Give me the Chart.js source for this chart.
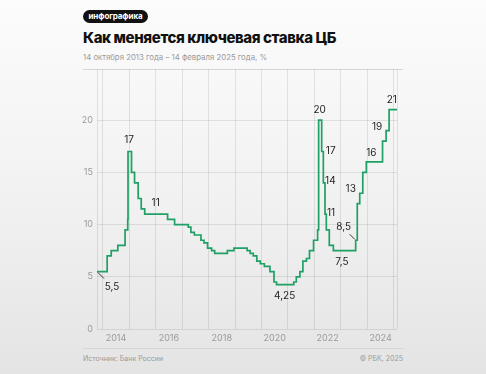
<!DOCTYPE html>
<html><head><meta charset="utf-8">
<script src="https://cdn.jsdelivr.net/npm/chart.js@4"></script>
<style>
html,body{margin:0;padding:0;}
body{width:486px;height:374px;overflow:hidden;position:relative;background:linear-gradient(180deg,#fcfcfc 0%,#f1f1f1 55%,#e4e4e4 100%);font-family:Inter,"Noto Sans",sans-serif;}
#c{position:absolute;left:0;top:0;}
.badge{position:absolute;left:83px;top:10px;height:13px;width:65px;border-radius:7px;background:#111;color:#fff;font-size:8px;font-weight:700;line-height:13px;text-align:center;letter-spacing:-0.1px;}
.title{position:absolute;left:83px;top:28px;font-size:15px;font-weight:800;color:#111;letter-spacing:-0.4px;white-space:nowrap;}
.sub{position:absolute;left:83px;top:52px;font-size:7.8px;color:#9a9a9a;white-space:nowrap;}
.sep{position:absolute;left:83px;width:320px;height:1px;background:#d6d6d6;}
.foot{position:absolute;top:354px;font-size:7px;color:#9a9a9a;white-space:nowrap;}
</style></head>
<body>
<div class="badge">инфографика</div>
<div class="title">Как меняется ключевая ставка ЦБ</div>
<div class="sub">14 октября 2013 года – 14 февраля 2025 года, %</div>
<div class="sep" style="top:69px"></div>
<div class="sep" style="top:348px"></div>
<div class="foot" style="left:83px">Источник: Банк России</div>
<div class="foot" style="right:83px">© РБК, 2025</div>
<canvas id="c" width="486" height="374"></canvas>
<script>
const dates = ["2013-10-14","2014-03-03","2014-04-28","2014-07-28","2014-11-05","2014-12-12","2014-12-16","2015-02-02","2015-03-16","2015-05-05","2015-06-16","2015-08-03","2016-06-14","2016-09-19","2017-03-27","2017-05-02","2017-06-19","2017-09-18","2017-10-30","2017-12-18","2018-02-12","2018-03-26","2018-09-17","2018-12-17","2019-06-17","2019-07-29","2019-09-09","2019-10-28","2019-12-16","2020-02-10","2020-04-27","2020-06-22","2020-07-27","2021-03-22","2021-04-26","2021-06-15","2021-07-26","2021-09-13","2021-10-25","2021-12-20","2022-02-14","2022-02-28","2022-04-11","2022-05-04","2022-05-27","2022-06-14","2022-07-25","2022-09-19","2023-07-24","2023-08-15","2023-09-18","2023-10-30","2023-12-18","2024-07-29","2024-09-16","2024-10-28","2025-02-14"];
const rates = [5.5,7,7.5,8,9.5,10.5,17,15,14,12.5,11.5,11,10.5,10,9.75,9.25,9,8.5,8.25,7.75,7.5,7.25,7.5,7.75,7.5,7.25,7,6.5,6.25,6,5.5,4.5,4.25,4.5,5,5.5,6.5,6.75,7.5,8.5,9.5,20,17,14,11,9.5,8,7.5,8.5,12,13,15,16,18,19,21,21];
const yTicks = [0,5,10,15,20];
const yearTicks = [2014,2015,2016,2017,2018,2019,2020,2021,2022,2023,2024,2025];
const yearLabels = [2014,2016,2018,2020,2022,2024];
// annotations: text, anchor date, anchor value, pixel offset
const noteText  = ["5,5","17","11","4,25","20","17","14","11","8,5","7,5","13","16","19","21"];
const noteDate  = ["2013-10-14","2014-12-16","2016-01-01","2020-10-20","2022-02-28","2022-04-11","2022-05-04","2022-05-27","2023-07-24","2023-01-01","2023-09-18","2024-01-01","2024-09-16","2025-01-01"];
const noteValue = [5.5,17,11,4.25,20,17,14,11,8.5,7.5,13,16,19,21];

function toYear(s){
  const [y,m,d]=s.split('-').map(Number);
  const start=Date.UTC(y,0,1), end=Date.UTC(y+1,0,1), t=Date.UTC(y,m-1,d);
  return y+(t-start)/(end-start);
}
const pts = dates.map((d,i)=>({x:toYear(d),y:rates[i]}));
const xMin = toYear(dates[0]), xMax = toYear(dates[dates.length-1]);
const noteOff = [[15,15],[1,-11],[0,-11],[2,11.5],[1,-10],[9,0],[7,-2],[6,-1],[-12,-13.5],[1,11],[-9,-4],[4,-8.5],[-9,-4],[-2,-10]];
const leaders = {0:[[1,1],[7,7]],8:[[-1,-1],[-6,-6]]};

const notes = {
  id:'notes',
  afterDatasetsDraw(chart){
    const ctx=chart.ctx, xs=chart.scales.x, ys=chart.scales.y;
    ctx.save();
    ctx.font='10px Inter, "Noto Sans", sans-serif';
    ctx.fillStyle='#1e1e1e';
    ctx.textAlign='center';ctx.textBaseline='middle';
    noteText.forEach((t,i)=>{
      const px=xs.getPixelForValue(toYear(noteDate[i])), py=ys.getPixelForValue(noteValue[i]);
      ctx.fillText(t, px+noteOff[i][0], py+noteOff[i][1]);
      if(leaders[i]){
        const l=leaders[i];
        ctx.strokeStyle='#333';ctx.lineWidth=1;
        ctx.beginPath();ctx.moveTo(px+l[0][0],py+l[0][1]);ctx.lineTo(px+l[1][0],py+l[1][1]);ctx.stroke();
      }
    });
    ctx.restore();
  }
};

new Chart(document.getElementById('c'),{
  type:'line',
  data:{datasets:[{data:pts,stepped:true,borderColor:'#1fa064',borderWidth:1.7,pointRadius:0,fill:false,tension:0}]},
  options:{
    responsive:false,animation:false,devicePixelRatio:1,
    layout:{padding:{left:80,right:89,top:69,bottom:25}},
    plugins:{legend:{display:false},tooltip:{enabled:false}},
    scales:{
      x:{type:'linear',min:xMin,max:xMax,position:'bottom',
        afterBuildTicks(s){s.ticks=[xMin].concat(yearTicks,[xMax]).map(v=>({value:v}));},
        afterFit(s){s.height=0;},
        grid:{color:'rgba(0,0,0,0.09)',lineWidth:1,drawTicks:false},
        border:{display:false},
        ticks:{display:false}},
      x2:{type:'linear',min:xMin,max:xMax,position:'bottom',
        afterBuildTicks(s){s.ticks=yearLabels.map(v=>({value:v+0.5}));},
        afterFit(s){s.height=20;},
        grid:{display:false,drawTicks:false},border:{display:false},
        ticks:{color:'#9a9a9a',font:{size:9,family:'Inter'},padding:4,maxRotation:0,autoSkip:false,callback:v=>String(Math.floor(v))}},
      y:{min:0,max:24.9,
        afterBuildTicks(s){s.ticks=yTicks.map(v=>({value:v}));},
        afterFit(s){s.width=17;},
        grid:{color:'rgba(0,0,0,0.09)',drawTicks:false},
        border:{display:false},
        ticks:{color:'#9a9a9a',font:{size:9,family:'Inter'},padding:4}}
    }
  },
  plugins:[notes]
});
</script>
</body></html>
